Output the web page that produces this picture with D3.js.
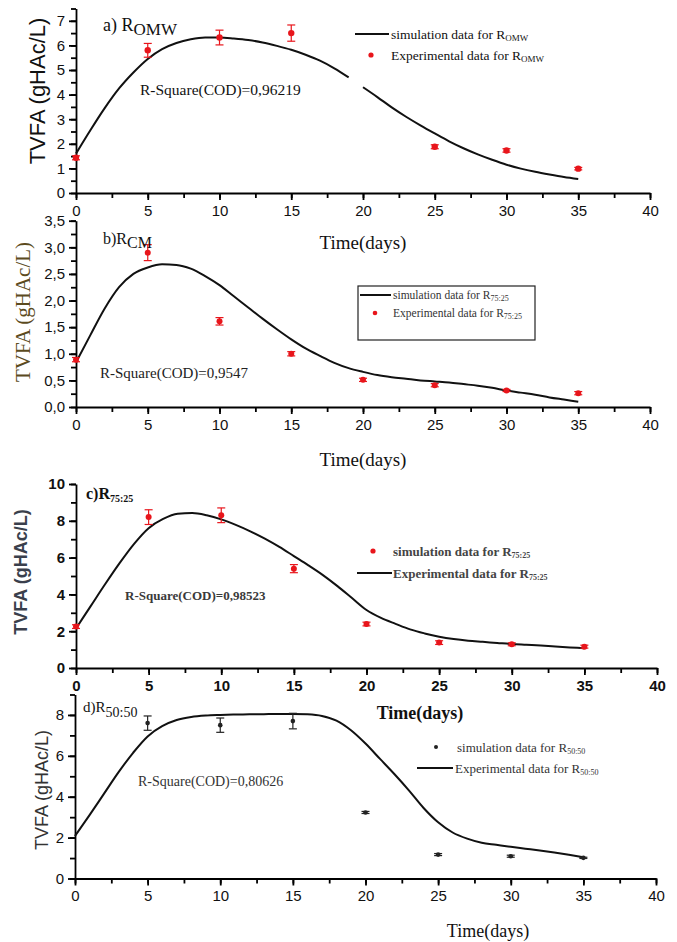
<!doctype html>
<html>
<head>
	<style>
		body{margin:0;background:#fff;}
		.ax path, .ax line{stroke:#000;stroke-width:1.8;}
		.ax text{font-family:"Liberation Sans",Arial,sans-serif;font-size:15px;fill:#111;}
		.serif{font-family:"Liberation Serif","Times New Roman",serif;}
		.sans{font-family:"Liberation Sans",Arial,sans-serif;}
	</style>
</head>
<body>
	<div id="root"></div>
	<script src="https://d3js.org/d3.v7.min.js"></script>
	<script>

		// days of measurement and simulation grid
		var days = [0, 5, 10, 15, 20, 25, 30, 35];
		var simT = d3.range(0, 36);
		var xTicks = [0, 5, 10, 15, 20, 25, 30, 35, 40];

		// a) R_OMW
		var expA = [1.43, 5.8, 6.32, 6.5, null, 1.88, 1.73, 0.99];
		var errA = [0.08, 0.28, 0.3, 0.33, 0, 0.08, 0.07, 0.05];
		var simA = [1.6, 2.55, 3.45, 4.25, 4.9, 5.45, 5.85, 6.1, 6.25, 6.32, 6.32, 6.28, 6.22, 6.12, 5.98, 5.82, 5.62, 5.38, 5.07, 4.7,
			4.3, 3.9, 3.48, 3.1, 2.75, 2.42, 2.1, 1.82, 1.57, 1.35, 1.15, 0.99, 0.86, 0.75, 0.65, 0.57];
		var ticksA = [0, 1, 2, 3, 4, 5, 6, 7];

		// b) R_CM
		var expB = [0.89, 2.9, 1.61, 1.0, 0.51, 0.41, 0.31, 0.26];
		var errB = [0.04, 0.15, 0.07, 0.04, 0.03, 0.03, 0.02, 0.03];
		var simB = [0.84, 1.35, 1.85, 2.25, 2.5, 2.62, 2.68, 2.67, 2.6, 2.46, 2.29, 2.08, 1.87, 1.66, 1.46, 1.27, 1.1, 0.96, 0.83, 0.73,
			0.66, 0.6, 0.56, 0.53, 0.5, 0.48, 0.46, 0.43, 0.4, 0.36, 0.31, 0.27, 0.23, 0.18, 0.14, 0.1];
		var ticksB = [0, 0.5, 1, 1.5, 2, 2.5, 3, 3.5];

		// c) R75:25
		var expC = [2.25, 8.2, 8.3, 5.4, 2.39, 1.38, 1.29, 1.16];
		var errC = [0.1, 0.4, 0.4, 0.22, 0.1, 0.1, 0.08, 0.08];
		var simC = [2.15, 3.35, 4.55, 5.7, 6.75, 7.6, 8.1, 8.38, 8.42, 8.3, 8.08, 7.78, 7.43, 7.03, 6.58, 6.08, 5.58, 5.05, 4.45, 3.8,
			3.15, 2.72, 2.4, 2.1, 1.88, 1.7, 1.57, 1.48, 1.42, 1.36, 1.3, 1.26, 1.22, 1.17, 1.12, 1.07];
		var ticksC = [0, 2, 4, 6, 8, 10];

		// d) R50:50
		var expD = [null, 7.6, 7.5, 7.7, 3.23, 1.17, 1.09, 1.01];
		var errD = [0, 0.35, 0.35, 0.38, 0.05, 0.05, 0.05, 0.03];
		var simD = [2.08, 3.1, 4.15, 5.2, 6.15, 6.95, 7.45, 7.75, 7.9, 7.97, 8.0, 8.02, 8.03, 8.04, 8.05, 8.05, 8.03, 7.95, 7.72, 7.25,
			6.6, 5.85, 5.1, 4.3, 3.45, 2.75, 2.25, 1.95, 1.75, 1.65, 1.55, 1.46, 1.37, 1.27, 1.16, 1.04];
		var ticksD = [0, 2, 4, 6, 8];

		var svg = d3.select('#root').append('svg')
			.attr('width', 677)
			.attr('height', 942);

		var comma = function(d){ return d3.format('.1f')(d).replace('.', ','); };

		function panel(o) {
			var x = d3.scaleLinear().domain([0, 40]).range([o.x0, o.x1]);
			var y = d3.scaleLinear().domain([0, o.ymax]).range([o.y0, o.y1]);
			var g = svg.append('g');

			// minor ticks
			g.append('g').attr('class', 'ax')
				.attr('transform', 'translate(0,' + o.y0 + ')')
				.call(d3.axisBottom(x).tickValues(d3.range(0, 40.1, 2.5)).tickFormat('').tickSize(5))
				.select('.domain').remove();
			g.append('g').attr('class', 'ax')
				.attr('transform', 'translate(' + o.x0 + ',0)')
				.call(d3.axisLeft(y).tickValues(d3.range(0, o.ymax + 0.001, o.minor)).tickFormat('').tickSize(5))
				.select('.domain').remove();

			// major axes
			var xa = g.append('g').attr('class', 'ax')
				.attr('transform', 'translate(0,' + o.y0 + ')')
				.call(d3.axisBottom(x).tickValues(xTicks).tickSizeInner(7).tickSizeOuter(0).tickPadding(5));
			var ya = g.append('g').attr('class', 'ax')
				.attr('transform', 'translate(' + o.x0 + ',0)')
				.call(d3.axisLeft(y).tickValues(o.ticks).tickFormat(o.fmt || d3.format('d')).tickSizeInner(7).tickSizeOuter(0).tickPadding(4));
			if (o.bold) { xa.selectAll('text').style('font-weight', 'bold'); ya.selectAll('text').style('font-weight', 'bold'); }

			// simulation curve
			var line = d3.line()
				.defined(function(d){ return d[1] != null; })
				.x(function(d){ return x(d[0]); })
				.y(function(d){ return y(d[1]); })
				.curve(d3.curveMonotoneX);
			var pts = simT.map(function(t, i){ return [t, o.sim[i]]; });
			var parts = o.gap ? [pts.filter(function(p){ return p[0] <= o.gap[0]; }), pts.filter(function(p){ return p[0] >= o.gap[1]; })] : [pts];
			parts.forEach(function(p){
				g.append('path').attr('d', line(p))
					.attr('fill', 'none').attr('stroke', '#111').attr('stroke-width', 2);
			});

			// experimental points with error bars
			var ex = days.map(function(t, i){ return {t: t, v: o.exp[i], e: o.err[i]}; })
				.filter(function(d){ return d.v != null; });
			var eb = g.selectAll('.eb').data(ex).enter().append('g');
			eb.append('line')
				.attr('x1', function(d){ return x(d.t); }).attr('x2', function(d){ return x(d.t); })
				.attr('y1', function(d){ return y(d.v + d.e); }).attr('y2', function(d){ return y(d.v - d.e); })
				.attr('stroke', o.color).attr('stroke-width', 1.2);
			[1, -1].forEach(function(s){
				eb.append('line')
					.attr('x1', function(d){ return x(d.t) - 4; }).attr('x2', function(d){ return x(d.t) + 4; })
					.attr('y1', function(d){ return y(d.v + s * d.e); }).attr('y2', function(d){ return y(d.v + s * d.e); })
					.attr('stroke', o.color).attr('stroke-width', 1.2);
			});
			eb.append('circle')
				.attr('cx', function(d){ return x(d.t); })
				.attr('cy', function(d){ return y(d.v); })
				.attr('r', o.r).attr('fill', o.color);

			return {x: x, y: y, g: g};
		}

		function sub(sel, x, yb, main, subt, mainSize, subSize, dy, cls, weight, fill) {
			var t = svg.append('text').attr('class', cls).attr('x', x).attr('y', yb)
				.style('font-size', mainSize + 'px').style('font-weight', weight || 'normal').attr('fill', fill || '#111');
			t.append('tspan').text(main);
			t.append('tspan').attr('dy', dy).style('font-size', subSize + 'px').text(subt);
			return t;
		}

		function ylabel(x, y, size, cls, fill, weight) {
			svg.append('text').attr('class', cls)
				.attr('transform', 'translate(' + x + ',' + y + ') rotate(-90)')
				.attr('text-anchor', 'middle')
				.style('font-size', size + 'px').style('font-weight', weight || 'normal')
				.attr('fill', fill)
				.text('TVFA (gHAc/L)');
		}

		function xlabel(x, y, size, weight) {
			svg.append('text').attr('class', 'serif')
				.attr('x', x).attr('y', y).attr('text-anchor', 'middle')
				.style('font-size', size + 'px').style('font-weight', weight || 'normal')
				.attr('fill', '#111').text('Time(days)');
		}

		// ---- a
		panel({x0: 76, x1: 650, y0: 193, y1: 8.5, ymax: 7.5, minor: 0.5, ticks: ticksA,
			sim: simA, exp: expA, err: errA, color: '#e8151b', r: 3.2, gap: [19, 20]});
		ylabel(45, 91, 22, 'sans', '#111');
		sub(svg, 103, 31, 'a) R', 'OMW', 18, 17, 4, 'serif');
		svg.append('text').attr('class', 'serif').attr('x', 140).attr('y', 95)
			.style('font-size', '15.5px').attr('fill', '#111').text('R-Square(COD)=0,96219');
		svg.append('line').attr('x1', 355).attr('x2', 389).attr('y1', 34).attr('y2', 34).attr('stroke', '#111').attr('stroke-width', 2);
		sub(svg, 391, 39, 'simulation data for R', 'OMW', 13.5, 9, 2, 'serif');
		svg.append('circle').attr('cx', 371).attr('cy', 55).attr('r', 2.6).attr('fill', '#e8151b');
		sub(svg, 391, 60, 'Experimental data for R', 'OMW', 13.5, 9, 2, 'serif');
		xlabel(363, 249, 19);

		// ---- b
		panel({x0: 76, x1: 650, y0: 407, y1: 220.7, ymax: 3.5, minor: 0.25, ticks: ticksB, fmt: comma,
			sim: simB, exp: expB, err: errB, color: '#e8151b', r: 3, gap: null});
		ylabel(30, 312, 21, 'serif', '#5c4b1e');
		sub(svg, 103, 244, 'b)R', 'CM', 16, 16, 4, 'serif');
		svg.append('text').attr('class', 'serif').attr('x', 100).attr('y', 378)
			.style('font-size', '15px').attr('fill', '#222').text('R-Square(COD)=0,9547');
		svg.append('rect').attr('x', 358).attr('y', 286).attr('width', 177).attr('height', 54)
			.attr('fill', '#fff').attr('stroke', '#222').attr('stroke-width', 1.2);
		svg.append('line').attr('x1', 360).attr('x2', 391).attr('y1', 295).attr('y2', 295).attr('stroke', '#111').attr('stroke-width', 2);
		sub(svg, 393, 299, 'simulation data for R', '75:25', 11.5, 8, 2, 'serif', 'normal', '#333');
		svg.append('circle').attr('cx', 375).attr('cy', 313).attr('r', 2.3).attr('fill', '#e8151b');
		sub(svg, 393, 317, 'Experimental data for R', '75:25', 11.5, 8, 2, 'serif', 'normal', '#333');
		xlabel(363, 466, 19);

		// ---- c
		panel({x0: 76, x1: 657, y0: 668, y1: 484, ymax: 10, minor: 1, ticks: ticksC, bold: true,
			sim: simC, exp: expC, err: errC, color: '#e8151b', r: 3, gap: null});
		ylabel(27, 572, 18, 'sans', '#3a3f4c', 'bold');
		sub(svg, 86, 499, 'c)R', '75:25', 16, 10, 3, 'serif', 'bold');
		svg.append('text').attr('class', 'serif').attr('x', 125).attr('y', 600)
			.style('font-size', '13px').style('font-weight', 'bold').attr('fill', '#3a3a3a').text('R-Square(COD)=0,98523');
		svg.append('circle').attr('cx', 373).attr('cy', 551).attr('r', 2.6).attr('fill', '#e8151b');
		sub(svg, 393, 556, 'simulation data for R', '75:25', 13, 8, 2, 'serif', 'bold', '#444');
		svg.append('line').attr('x1', 357).attr('x2', 392).attr('y1', 573).attr('y2', 573).attr('stroke', '#111').attr('stroke-width', 2);
		sub(svg, 393, 578, 'Experimental data for R', '75:25', 13, 8, 2, 'serif', 'bold', '#444');
		xlabel(420, 719, 18, 'bold');

		// ---- d
		panel({x0: 75, x1: 656, y0: 878.5, y1: 694.5, ymax: 9, minor: 1, ticks: ticksD,
			sim: simD, exp: expD, err: errD, color: '#222', r: 2.3, gap: null});
		ylabel(48, 790, 18, 'sans', '#333');
		sub(svg, 83, 712, 'd)R', '50:50', 15, 14, 5, 'serif');
		svg.append('text').attr('class', 'serif').attr('x', 138).attr('y', 786)
			.style('font-size', '14px').attr('fill', '#333').text('R-Square(COD)=0,80626');
		svg.append('circle').attr('cx', 436).attr('cy', 747).attr('r', 2).attr('fill', '#222');
		sub(svg, 457, 752, 'simulation data for R', '50:50', 13, 8, 2, 'serif', 'normal', '#333');
		svg.append('line').attr('x1', 417).attr('x2', 453).attr('y1', 768).attr('y2', 768).attr('stroke', '#111').attr('stroke-width', 2);
		sub(svg, 455, 773, 'Experimental data for R', '50:50', 13, 8, 2, 'serif', 'normal', '#333');
		xlabel(488, 937, 18);
	</script>
</body>
</html>
